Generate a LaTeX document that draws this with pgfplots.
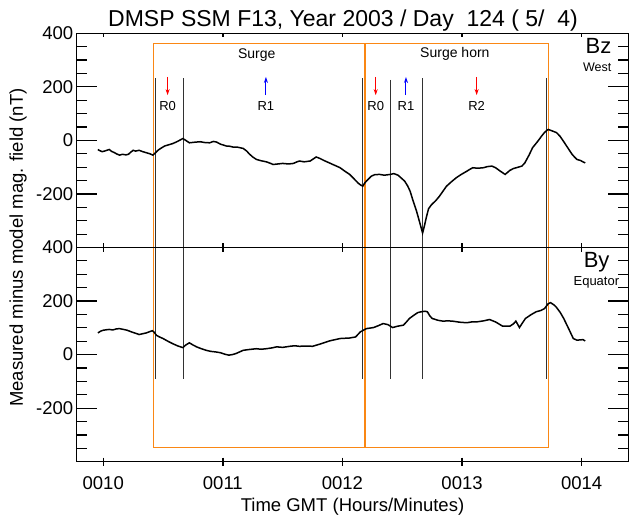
\documentclass[border=0pt]{standalone}
\usepackage{pgfplots}
\pgfplotsset{compat=1.18}
\usepackage{fontspec}
\setmainfont{Liberation Sans}
\usetikzlibrary{arrows.meta}
\definecolor{boxorange}{RGB}{250,135,20}
\definecolor{rline}{RGB}{50,50,50}

\pgfplotsset{
  panel/.style={
    scale only axis, width=551.6pt, height=214.2pt,
    xmin=9.778, xmax=14.39, ymin=-400, ymax=400,
    clip=false,
    xtick={10,11,12,13,14},
    ytick={-200,0,200,400}, yticklabels={-200,0,200,400},
    minor ytick={-350,-300,-250,-150,-100,-50,50,100,150,250,300,350},
    tick align=inside,
    minor tick length=10pt,
    major tick style={draw=none},
    minor tick style={black, line width=1.2pt},
    axis line style={line width=1.4pt},
    tick label style={font=\fontsize{18.5}{20}\selectfont},
  },
  curve/.style={black, line width=1.5pt, no marks},
  tk/.style={black, line width=1.3pt, no marks, forget plot},
  rl/.style={rline, line width=0.8pt, no marks, forget plot},
  ob/.style={boxorange, line width=1.5pt, no marks, forget plot},
  dn/.style={red, line width=1pt, -{Stealth[length=6pt,width=4pt]}, forget plot},
  up/.style={blue, line width=1pt, -{Stealth[length=6pt,width=4pt]}, forget plot},
}

\begin{document}
\begin{tikzpicture}
\path[use as bounding box] (-76.7pt,-55.3pt) rectangle (553.3pt,461.7pt);

% lower panel: By
\begin{axis}[panel, at={(0pt,0pt)},
  xticklabels={0010,0011,0012,0013,0014},
  xticklabel style={anchor=base, yshift=-28pt}]
  \pgfplotsinvokeforeach{10,11,12,13,14}{
    \addplot[tk] coordinates {(#1,400) (#1,385)};
    \addplot[tk] coordinates {(#1,-385) (#1,-415)};
  }
  % long major y ticks
  \addplot[tk] coordinates {(9.778,200) (9.945,200)};
  \addplot[tk] coordinates {(9.778,0) (9.945,0)};
  \addplot[tk] coordinates {(9.778,-200) (9.945,-200)};
  \addplot[tk] coordinates {(14.223,200) (14.39,200)};
  \addplot[tk] coordinates {(14.223,0) (14.39,0)};
  \addplot[tk] coordinates {(14.223,-200) (14.39,-200)};
  \addplot[ob] coordinates {(10.42,400) (10.42,-347) (13.721,-347) (13.721,400)};
  \addplot[ob] coordinates {(12.188,400) (12.188,-347)};
  \addplot[rl] coordinates {(10.438,400) (10.438,-92)};
  \addplot[rl] coordinates {(10.669,400) (10.669,-92)};
  \addplot[rl] coordinates {(12.169,400) (12.169,-92)};
  \addplot[rl] coordinates {(12.403,400) (12.403,-92)};
  \addplot[rl] coordinates {(12.671,400) (12.671,-92)};
  \addplot[rl] coordinates {(13.707,400) (13.707,-92)};
  \addplot[curve] coordinates {
    (9.955,81) (9.98,88) (10.0,91) (10.03,93) (10.05,94) (10.08,92) (10.11,96)
    (10.136,97) (10.17,94) (10.2,91) (10.24,84) (10.275,79) (10.30,75) (10.33,78)
    (10.36,81) (10.39,86) (10.41,89) (10.425,84) (10.445,72) (10.47,66) (10.50,60)
    (10.54,50) (10.58,41) (10.62,33) (10.666,26) (10.69,36) (10.72,44) (10.75,36)
    (10.78,29) (10.82,22) (10.86,16) (10.90,12) (10.94,10) (10.98,7) (11.02,1)
    (11.05,-2) (11.08,0) (11.11,4) (11.14,10) (11.17,16) (11.22,19) (11.28,22)
    (11.32,20) (11.364,22) (11.41,25) (11.45,29) (11.50,27) (11.56,31) (11.60,33)
    (11.64,31) (11.70,32) (11.75,31) (11.81,39) (11.85,45) (11.89,51) (11.93,55)
    (11.98,60) (12.02,61) (12.06,62) (12.11,66) (12.15,85) (12.2,97) (12.26,101)
    (12.30,108) (12.34,116) (12.38,112) (12.42,101) (12.46,106) (12.51,110)
    (12.535,122) (12.56,135) (12.60,148) (12.63,157) (12.66,160) (12.69,162)
    (12.71,160) (12.73,145) (12.75,135) (12.80,128) (12.84,125) (12.88,126)
    (12.92,125) (12.98,121) (13.04,119) (13.08,122) (13.12,122) (13.18,126)
    (13.23,131) (13.28,122) (13.34,106) (13.40,106) (13.43,115) (13.45,125)
    (13.48,101) (13.50,115) (13.53,135) (13.58,150) (13.62,160) (13.66,165)
    (13.69,172) (13.72,190) (13.74,194) (13.77,185) (13.79,176) (13.82,158)
    (13.85,135) (13.89,98) (13.93,60) (13.96,54) (13.99,55) (14.01,56) (14.03,51)
  };
  \node[anchor=base east, font=\fontsize{22}{24}\selectfont] at (axis cs:14.262,327) {By};
  \node[anchor=base east, font=\fontsize{13}{15}\selectfont] at (axis cs:14.343,259) {Equator};
  \node[rotate=90, font=\fontsize{18.5}{20}\selectfont] at ([xshift=-58.7pt]rel axis cs:0,1) {Measured minus model mag. field (nT)};
  \node[anchor=base, font=\fontsize{18.5}{20}\selectfont] at ([yshift=-49.8pt]rel axis cs:0.5,0) {Time GMT (Hours/Minutes)};
\end{axis}

% upper panel: Bz
\begin{axis}[panel, at={(0pt,214.2pt)}, xticklabels={}]
  \pgfplotsinvokeforeach{10,11,12,13,14}{
    \addplot[tk] coordinates {(#1,400) (#1,385)};
    \addplot[tk] coordinates {(#1,-400) (#1,-385)};
  }
  % long major y ticks
  \addplot[tk] coordinates {(9.778,200) (9.945,200)};
  \addplot[tk] coordinates {(9.778,0) (9.945,0)};
  \addplot[tk] coordinates {(9.778,-200) (9.945,-200)};
  \addplot[tk] coordinates {(14.223,200) (14.39,200)};
  \addplot[tk] coordinates {(14.223,0) (14.39,0)};
  \addplot[tk] coordinates {(14.223,-200) (14.39,-200)};
  \addplot[ob] coordinates {(10.42,-400) (10.42,362) (13.721,362) (13.721,-400)};
  \addplot[ob] coordinates {(12.188,362) (12.188,-400)};
  \addplot[rl] coordinates {(10.438,233) (10.438,-400)};
  \addplot[rl] coordinates {(10.669,233) (10.669,-400)};
  \addplot[rl] coordinates {(12.169,233) (12.169,-400)};
  \addplot[rl] coordinates {(12.403,226) (12.403,-400)};
  \addplot[rl] coordinates {(12.671,232) (12.671,-400)};
  \addplot[rl] coordinates {(13.707,232) (13.707,-400)};
  \addplot[dn] coordinates {(10.538,237) (10.538,169)};
  \addplot[up] coordinates {(11.360,169) (11.360,237)};
  \addplot[dn] coordinates {(12.278,237) (12.278,169)};
  \addplot[up] coordinates {(12.531,169) (12.531,237)};
  \addplot[dn] coordinates {(13.122,237) (13.122,169)};
  \addplot[curve] coordinates {
    (9.955,-34) (9.97,-38) (9.99,-42) (10.01,-40) (10.03,-37) (10.05,-34) (10.07,-41)
    (10.095,-46) (10.11,-50) (10.136,-55) (10.16,-52) (10.19,-54) (10.21,-52)
    (10.23,-44) (10.25,-37) (10.27,-40) (10.30,-37) (10.33,-42) (10.36,-46)
    (10.39,-50) (10.415,-55) (10.44,-45) (10.457,-37) (10.48,-30) (10.513,-21)
    (10.55,-16) (10.58,-12) (10.62,-4) (10.645,2) (10.666,7) (10.69,0) (10.72,-9)
    (10.76,-7) (10.81,-5) (10.85,-8) (10.89,-9) (10.92,-4) (10.946,-6) (10.98,-14)
    (11.03,-21) (11.06,-22) (11.085,-25) (11.12,-25) (11.17,-30) (11.20,-40)
    (11.22,-50) (11.25,-62) (11.28,-71) (11.32,-76) (11.364,-80) (11.40,-86)
    (11.42,-90) (11.46,-88) (11.50,-86) (11.55,-88) (11.59,-86) (11.62,-80)
    (11.64,-77) (11.68,-80) (11.73,-77) (11.76,-68) (11.78,-62) (11.81,-67)
    (11.85,-76) (11.89,-84) (11.93,-92) (11.98,-102) (12.02,-115) (12.06,-127)
    (12.10,-145) (12.13,-159) (12.15,-166) (12.17,-171) (12.185,-160) (12.20,-152)
    (12.24,-134) (12.27,-128) (12.31,-127) (12.35,-130) (12.40,-127) (12.43,-124)
    (12.465,-130) (12.49,-140) (12.52,-152) (12.545,-170) (12.566,-190) (12.59,-225)
    (12.62,-265) (12.645,-305) (12.67,-346) (12.685,-320) (12.70,-290) (12.72,-255)
    (12.745,-240) (12.78,-225) (12.81,-209) (12.84,-190) (12.87,-171) (12.91,-155)
    (12.95,-140) (12.99,-128) (13.04,-115) (13.065,-108) (13.09,-102) (13.13,-104)
    (13.18,-102) (13.21,-98) (13.25,-96) (13.28,-102) (13.32,-115) (13.36,-127)
    (13.40,-112) (13.43,-105) (13.47,-100) (13.50,-96) (13.525,-84) (13.56,-55)
    (13.59,-27) (13.63,-5) (13.665,16) (13.69,30) (13.72,41) (13.75,36) (13.79,29)
    (13.82,15) (13.846,-2) (13.88,-25) (13.92,-52) (13.94,-62) (13.96,-71)
    (13.99,-75) (14.01,-80) (14.03,-84)
  };
  \node[font=\fontsize{14}{16}\selectfont] at (axis cs:11.283,319) {Surge};
  \node[font=\fontsize{14}{16}\selectfont] at (axis cs:12.94,325) {Surge horn};
  \node[font=\fontsize{13}{15}\selectfont] at (axis cs:10.538,128) {R0};
  \node[font=\fontsize{13}{15}\selectfont] at (axis cs:11.360,128) {R1};
  \node[font=\fontsize{13}{15}\selectfont] at (axis cs:12.278,128) {R0};
  \node[font=\fontsize{13}{15}\selectfont] at (axis cs:12.531,128) {R1};
  \node[font=\fontsize{13}{15}\selectfont] at (axis cs:13.122,128) {R2};
  \node[anchor=base east, font=\fontsize{22}{24}\selectfont] at (axis cs:14.278,325) {Bz};
  \node[anchor=base east, font=\fontsize{12.5}{14}\selectfont] at (axis cs:14.278,256) {West};
  \node[anchor=base, font=\fontsize{23}{25}\selectfont] at ([xshift=-9.5pt, yshift=6.6pt]rel axis cs:0.5,1) {DMSP SSM F13, Year 2003 / Day\ \ 124 (\ 5/\ \ 4)};
\end{axis}
\end{tikzpicture}
\end{document}
